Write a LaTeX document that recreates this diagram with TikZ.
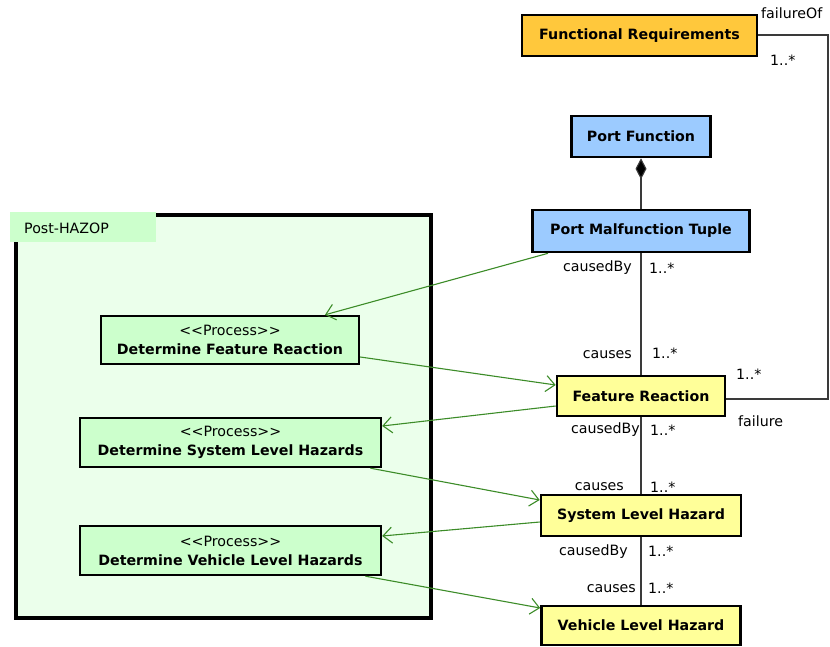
\documentclass[tikz,border=0pt]{standalone}
\usepackage{fontspec}
\setmainfont{DejaVu Sans}
\usetikzlibrary{arrows.meta}
\definecolor{reqfill}{HTML}{FFC83C}
\definecolor{portfill}{HTML}{9CCBFF}
\definecolor{hazfill}{HTML}{FFFF99}
\definecolor{procfill}{HTML}{CCFFCC}
\definecolor{framefill}{HTML}{EBFFEB}
\definecolor{flowgreen}{HTML}{3C8C28}
\definecolor{assoc}{HTML}{3A3A3A}
\tikzset{
  cls/.style={draw=black, line width=2.6pt, inner sep=0pt, font=\fontsize{14.2}{16}\selectfont\bfseries},
  proc/.style={draw=black, line width=2.4pt, fill=procfill, inner sep=0pt, align=center,
    font=\fontsize{14.2}{19}\selectfont},
  lbl/.style={inner sep=0pt, font=\fontsize{14.2}{16}\selectfont},
  link/.style={draw=assoc, line width=1.1pt},
  flow/.style={draw=flowgreen, line width=1.1pt, -{Straight Barb[length=9pt,width=16pt,line width=1.1pt]}}
}
\newcommand{\stereo}{<{}<Process>{}>}
\begin{document}
\begin{tikzpicture}[x=1pt,y=-1pt]
\useasboundingbox (0,0) rectangle (830,647);
\fill[white] (0,0) rectangle (830,647);

% Post-HAZOP package frame
\draw[line width=4.5pt, fill=framefill] (16,215) rectangle (431,618);
\fill[procfill] (10,212) rectangle (156,242);
\node[lbl, anchor=west] (pkg) at (24,228) {Post-HAZOP};

% Classes
\node[cls, fill=reqfill, minimum width=235pt, minimum height=41pt] (req) at (639.5,35.5) {Functional Requirements};
\node[cls, fill=portfill, minimum width=139pt, minimum height=41pt] (pf) at (641,136.5) {Port Function};
\node[cls, fill=portfill, minimum width=217pt, minimum height=42pt] (pmt) at (641,231) {Port Malfunction Tuple};
\node[cls, fill=hazfill, minimum width=168pt, minimum height=40pt] (fr) at (641,396) {Feature Reaction};
\node[cls, fill=hazfill, minimum width=200pt, minimum height=41pt] (slh) at (641,515.5) {System Level Hazard};
\node[cls, fill=hazfill, minimum width=199pt, minimum height=39pt] (vlh) at (641,625.5) {Vehicle Level Hazard};

% Processes
\node[proc, minimum width=258pt, minimum height=48pt] (p1) at (230,340) {\stereo\\\textbf{Determine Feature Reaction}};
\node[proc, minimum width=301pt, minimum height=49pt] (p2) at (230.5,442.5) {\stereo\\\textbf{Determine System Level Hazards}};
\node[proc, minimum width=301pt, minimum height=49pt] (p3) at (230.5,550.5) {\stereo\\\textbf{Determine Vehicle Level Hazards}};

% Composition and associations
\draw[link, {Diamond[length=21pt,width=11pt,fill=black]}-] (pf.south) -- (pmt.north);
\draw[link] (pmt.south) -- (fr.north);
\draw[link] (fr.south) -- (slh.north);
\draw[link] (slh.south) -- (vlh.north);
\coordinate (c1) at (828,35);
\coordinate (c2) at (828,399);
\draw[link] (req.east |- c1) -- (c1) -- (c2) -- (fr.east |- c2);

% Association end labels
\node[lbl, anchor=east] (l1) at (632,268) {causedBy};
\node[lbl, anchor=west] (l2) at (649,268) {1..*};
\node[lbl, anchor=east] (l3) at (632,355) {causes};
\node[lbl, anchor=west] (l4) at (652,353) {1..*};
\node[lbl, anchor=east] (l5) at (640,430) {causedBy};
\node[lbl, anchor=west] (l6) at (650,430) {1..*};
\node[lbl, anchor=east] (l7) at (624,487) {causes};
\node[lbl, anchor=west] (l8) at (650,487) {1..*};
\node[lbl, anchor=east] (l9) at (628,552) {causedBy};
\node[lbl, anchor=west] (l10) at (648,551) {1..*};
\node[lbl, anchor=east] (l11) at (636,589) {causes};
\node[lbl, anchor=west] (l12) at (648,588) {1..*};
\node[lbl, anchor=west] (l13) at (761,13) {failureOf};
\node[lbl, anchor=west] (l14) at (770,60) {1..*};
\node[lbl, anchor=west] (l15) at (736,374) {1..*};
\node[lbl, anchor=west] (l16) at (738,421) {failure};

% Process flows
\draw[flow] ([xshift=-93pt]pmt.south) -- ([xshift=95pt]p1.north);
\draw[flow] ([yshift=-17pt]p1.east) -- ([yshift=11pt]fr.west);
\draw[flow] ([yshift=-10pt]fr.west) -- ([yshift=16.5pt]p2.east);
\draw[flow] ([xshift=140pt]p2.south) -- ([yshift=15.5pt]slh.west);
\draw[flow] ([yshift=-6.5pt]slh.west) -- ([yshift=14.5pt]p3.east);
\draw[flow] ([xshift=135pt]p3.south) -- ([yshift=17.5pt]vlh.west);
\end{tikzpicture}
\end{document}
